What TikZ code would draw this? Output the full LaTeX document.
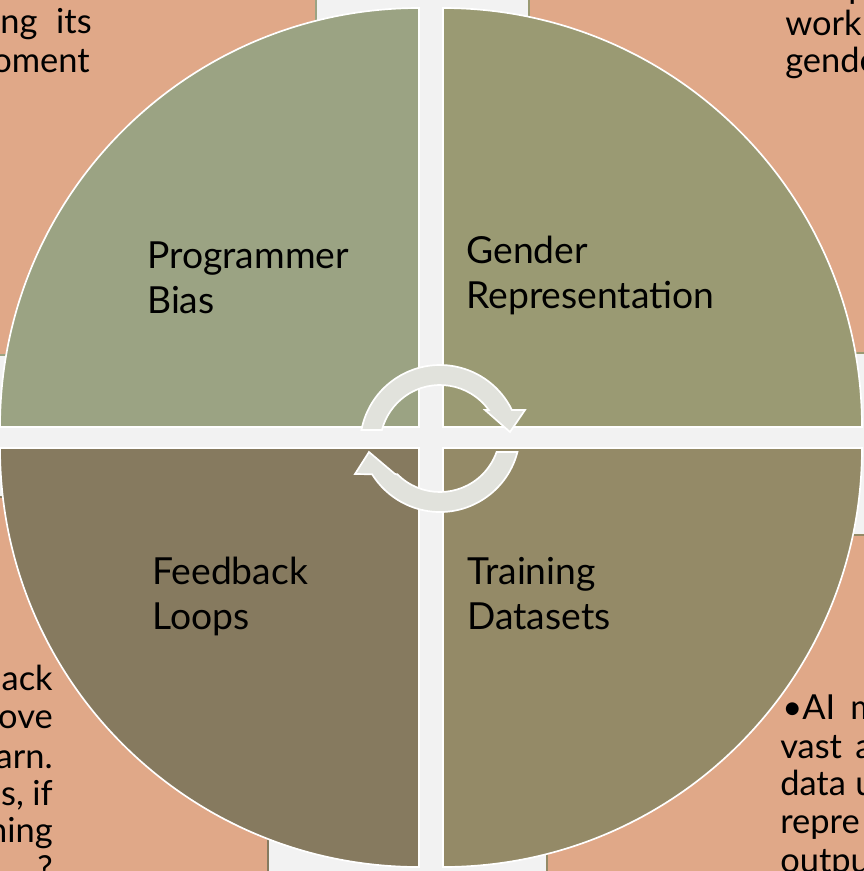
\documentclass[tikz,border=0pt]{standalone}
\usepackage{fontspec}
\setmainfont{Lato}
\usetikzlibrary{positioning,calc}

\definecolor{bgGray}{RGB}{242,242,242}
\definecolor{noteFill}{RGB}{224,168,136}
\definecolor{qTL}{RGB}{155,163,131}
\definecolor{qTR}{RGB}{154,154,115}
\definecolor{qBR}{RGB}{148,138,103}
\definecolor{qBL}{RGB}{134,122,95}
\definecolor{arrowFill}{RGB}{225,226,220}

\tikzset{
    quarter/.style={
        fill=#1,
        draw=white,
        line width=1.2pt
    },
    notebox/.style={
        fill=noteFill,
        draw=#1,
        line width=0.8pt
    },
    cyclearrow/.style={
        fill=arrowFill,
        draw=white,
        line width=1.2pt,
        line join=miter
    },
    quadlabel/.style={
        anchor=base west,
        inner sep=0pt,
        align=left,
        font=\fontsize{26.5}{31.5}\selectfont
    },
    sidetext/.style={
        inner sep=0pt,
        font=\fontsize{24.5}{27}\selectfont
    }
}

\begin{document}
\begin{tikzpicture}[x=0.025cm, y=-0.025cm]
    \useasboundingbox (0,0) rectangle (864,871);
    \clip (0,0) rectangle (864,871);
    \fill[bgGray] (0,0) rectangle (864,871);

    % text boxes behind the quarters
    \path[notebox=qTL] (-10,-10) rectangle (316,355);
    \path[notebox=qTR] (529,-10) rectangle (880,353);
    \path[notebox=qBR] (547,535) rectangle (880,890);
    \path[notebox=qBL] (-10,497) rectangle (268,890);

    % box texts
    \node[sidetext, anchor=base west] (tlA) at (0,33) {\makebox[39.8pt][l]{ng}its};
    \node[sidetext, anchor=base east] (tlB) at (90,72) {oment};
    \node[sidetext, anchor=base west] (trP) at (848,-2) {p};
    \node[sidetext, anchor=base west] (trA) at (785,35) {work};
    \node[sidetext, anchor=base west] (trB) at (785,72) {gende};
    \foreach \txt/\y [count=\i] in {ack/690, ove/728, arn./768, {s,\hspace{6pt}if}/805, ning/842, ?/880}
        \node[sidetext, anchor=base east] (bl\i) at (53,\y) {\txt};
    \node[sidetext, anchor=base west] (brA) at (782,719) {\makebox[48.4pt][l]{•AI}m};
    \node[sidetext, anchor=base west] (brB) at (780,758) {\makebox[53.3pt][l]{vast}a};
    \node[sidetext, anchor=base west] (brC) at (780,795) {\makebox[53.3pt][l]{data}u};
    \node[sidetext, anchor=base west] (brD) at (780,833) {repre};
    \node[sidetext, anchor=base west] (brE) at (780,872) {outpu};

    % the four quarters
    \path[quarter=qTL] (419,427) -- ++(180:419) arc[start angle=180, end angle=270, radius=419] -- cycle;
    \path[quarter=qTR] (443,427) -- ++(270:419) arc[start angle=270, end angle=360, radius=419] -- cycle;
    \path[quarter=qBR] (443,448) -- ++(0:419) arc[start angle=0, end angle=90, radius=419] -- cycle;
    \path[quarter=qBL] (419,448) -- ++(90:419) arc[start angle=90, end angle=180, radius=419] -- cycle;

    % labels sit on the baseline of their last line
    \node[quadlabel] (prog) at (147,313) {Programmer\\Bias};
    \node[quadlabel] (gend) at (466,308) {Gender\\Representation};
    \node[quadlabel] (feed) at (152,629) {Feedback\\Loops};
    \node[quadlabel] (train) at (467,629) {Training\\Datasets};

    % circular arrows in the middle
    \path[cyclearrow] ($(440,445)+(190.8:80)$) arc[start angle=190.8, end angle=334.1, radius=80]
        -- (525,410) -- (510,432) -- (485,410)
        -- ($(440,445)+(324.3:60)$) arc[start angle=324.3, end angle=194.5, radius=60] -- cycle;
    \path[cyclearrow] ($(440,432)+(14.5:80)$) arc[start angle=14.5, end angle=148.1, radius=80]
        -- (355,474) -- (369,452) -- (395,474)
        -- ($(440,432)+(135.2:60)$) arc[start angle=135.2, end angle=19.5, radius=60] -- cycle;
\end{tikzpicture}
\end{document}
